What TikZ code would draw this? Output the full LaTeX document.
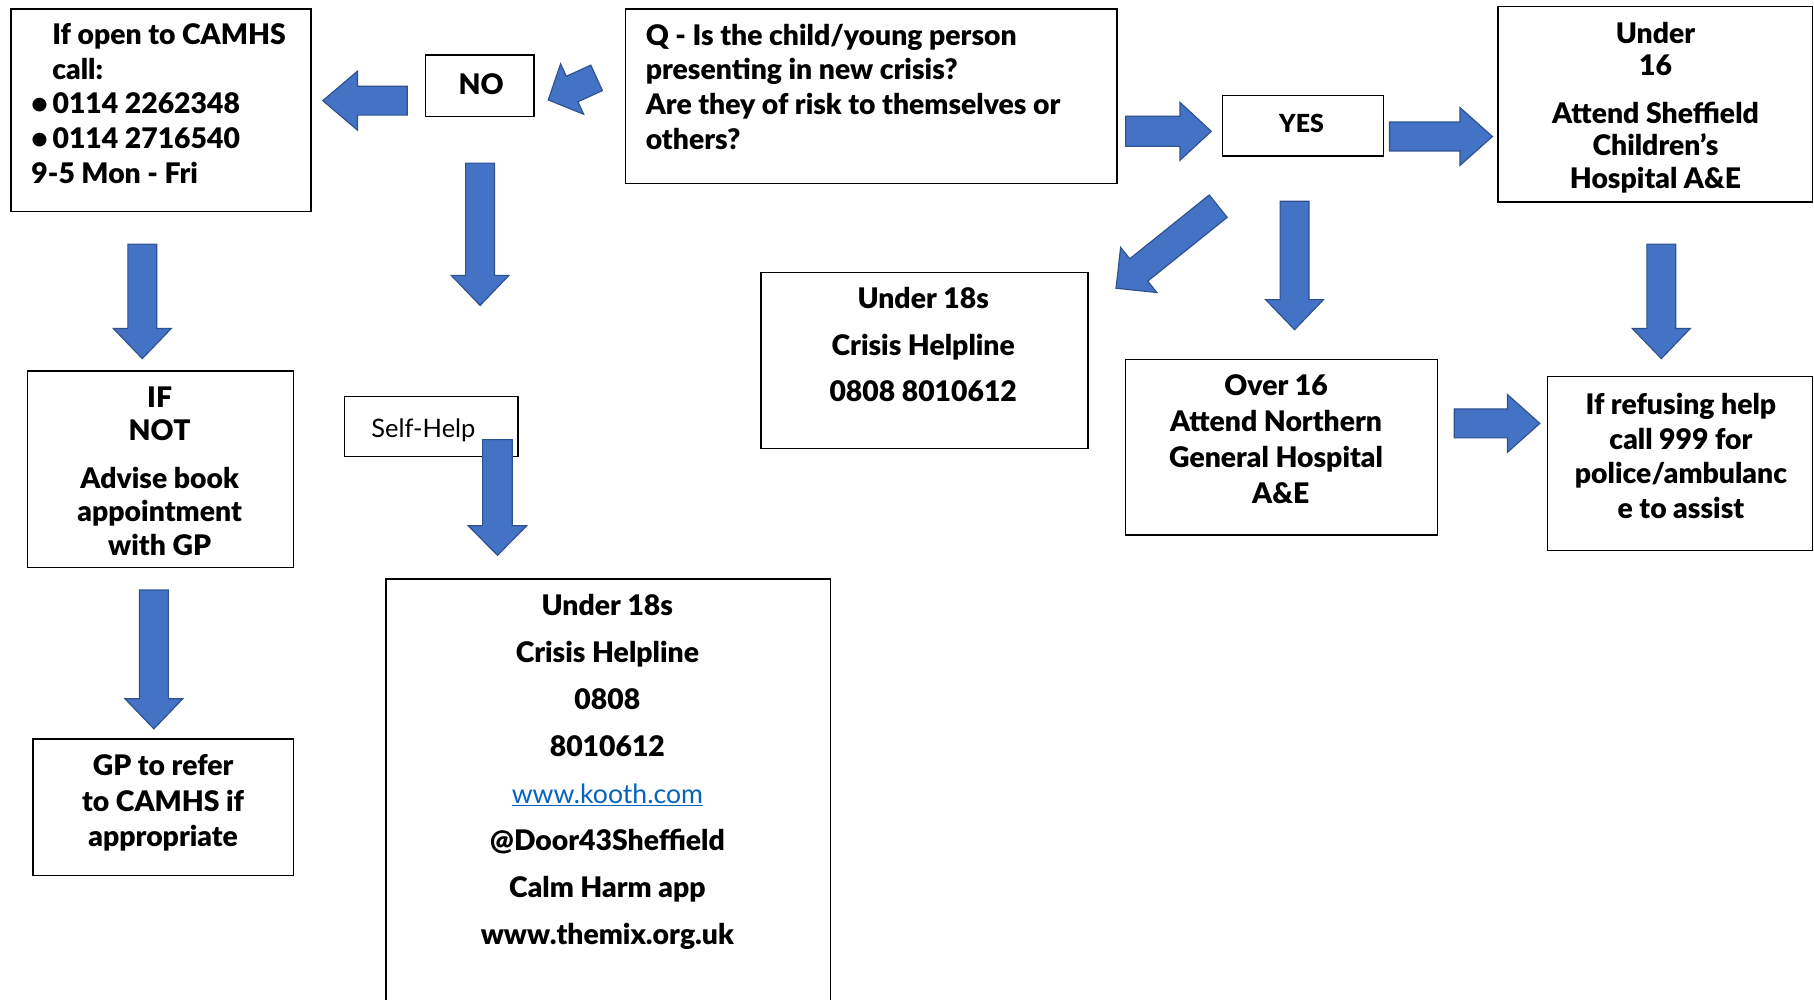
\documentclass[tikz,border=0pt]{standalone}
\usepackage{fontspec}
\setmainfont{Lato}[BoldFont={Lato Black}]
\usetikzlibrary{calc}
\definecolor{arrfill}{HTML}{4472C4}
\definecolor{arrline}{HTML}{2F528F}
\definecolor{linkblue}{HTML}{0563C1}
\tikzset{
  box/.style={draw=black, line width=1.3pt, fill=white, inner sep=0pt, anchor=north west},
  txt/.style={font=\fontsize{24.5}{30}\selectfont\bfseries, align=center, inner sep=0pt},
  blockarrow/.style={fill=arrfill, draw=arrline, line width=1pt, line join=miter},
}
\newcommand\barrow[5]{% tail, tip, body half, head half, head length
  \path[blockarrow] let \p1=(#1), \p2=(#2),
    \n1={atan2(\y2-\y1,\x2-\x1)}, \n2={veclen(\x2-\x1,\y2-\y1)} in
    [shift={(\p1)}, rotate=\n1]
    (0pt,-#3pt) -- ({\n2-#5pt},-#3pt) -- ({\n2-#5pt},-#4pt) -- (\n2,0pt)
    -- ({\n2-#5pt},#4pt) -- ({\n2-#5pt},#3pt) -- (0pt,#3pt) -- cycle;
}
\begin{document}
\begin{tikzpicture}[x=1pt,y=-1pt]
\useasboundingbox (0,0) rectangle (1568,864);
\fill[white] (0,0) rectangle (1568,864);
\clip (0,0) rectangle (1568,864);

% boxes
\node[box, minimum width=259pt, minimum height=175pt] (boxA) at (9,7) {};
\node[box, minimum width=94pt, minimum height=53pt] (boxNO) at (367,47) {};
\node[box, minimum width=425pt, minimum height=151pt] (boxQ) at (540,7) {};
\node[box, minimum width=139pt, minimum height=52pt] (boxYES) at (1056,82) {};
\node[box, minimum width=272pt, minimum height=169pt] (boxU16) at (1294,5) {};
\node[box, minimum width=283pt, minimum height=152pt] (boxU18) at (657,235) {};
\node[box, minimum width=270pt, minimum height=152pt] (boxO16) at (972,310) {};
\node[box, minimum width=229pt, minimum height=150pt] (boxREF) at (1337,325) {};
\node[box, minimum width=230pt, minimum height=170pt] (boxIF) at (23,320) {};
\node[box, minimum width=150pt, minimum height=52pt] (boxSELF) at (297,342) {};
\node[box, minimum width=225pt, minimum height=118pt] (boxGP) at (28,638) {};
\node[box, minimum width=384pt, minimum height=380pt] (boxBIG) at (333,500) {};

% texts
\node[txt, anchor=west, align=left] (tA) at (27,89.5)
  {\hspace*{18pt}If open to CAMHS\\\hspace*{18pt}call:\\\textbullet\,0114 2262348\\\textbullet\,0114 2716540\\9-5 Mon - Fri};
\node[txt, font=\fontsize{24.5}{28}\selectfont\bfseries] (tNO) at (416,73) {NO};
\node[txt, anchor=west, align=left] (tQ) at (558,75)
  {Q - Is the child/young person\\presenting in new crisis?\\Are they of risk to themselves or\\others?};
\node[txt, font=\fontsize{21.5}{26}\selectfont\bfseries] (tYES) at (1125,107) {YES};
\node[txt, font=\fontsize{24.5}{28}\selectfont\bfseries] (tU16) at (1431,93)
  {Under\\16\\[13pt]Attend Sheffield\\Children’s\\Hospital A\&E};
\node[txt, font=\fontsize{24.5}{40}\selectfont\bfseries] (tU18) at (798,298)
  {Under 18s\\Crisis Helpline\\0808 8010612};
\node[txt, font=\fontsize{24.5}{31}\selectfont\bfseries] (tO16) at (1103,379.5)
  {Over 16\\Attend Northern\\General Hospital\\\hspace*{8pt}A\&E};
\node[txt] (tREF) at (1453,394)
  {If refusing help\\call 999 for\\police/ambulanc\\e to assist};
\node[txt, font=\fontsize{24.5}{29}\selectfont\bfseries] (tIF) at (138,407)
  {IF\\NOT\\[12pt]Advise book\\appointment\\with GP};
\node[txt, font=\fontsize{24.5}{30.5}\selectfont\bfseries] (tGP) at (141,694)
  {GP to refer\\to CAMHS if\\appropriate};
\node[txt, font=\fontsize{22}{26}\selectfont] (tSELF) at (366,372) {Self-Help};
\node[txt, font=\fontsize{24.5}{40.6}\selectfont\bfseries] (tBIG) at (525,667)
  {Under 18s\\Crisis Helpline\\0808\\8010612\\{\mdseries\fontsize{23}{40.6}\selectfont\color{linkblue}\underline{www.kooth.com}}\\@Door43Sheffield\\Calm Harm app\\www.themix.org.uk};

% block arrows
\barrow{352,87}{279,87}{12.5}{25.5}{30}
\barrow{515.7,67.3}{473.9,86.4}{12.1}{24}{22.7}
\barrow{415,141}{415,264}{12.5}{25}{26}
\barrow{973,113.5}{1047,113.5}{13}{25}{27}
\barrow{1201,118}{1290,118}{12.5}{25}{28}
\barrow{1053,178.2}{964.6,249.2}{12.4}{25}{25.2}
\barrow{1119,174}{1119,285}{12.5}{25}{26}
\barrow{1257,366}{1331,366}{12.5}{25}{28}
\barrow{1436,211}{1436,310}{12.5}{25}{26}
\barrow{123,211}{123,310}{12.5}{25}{26}
\barrow{133,510}{133,630}{12.5}{25}{26}
\barrow{430,380}{430,480}{12.8}{25.2}{25.5}
\end{tikzpicture}
\end{document}
